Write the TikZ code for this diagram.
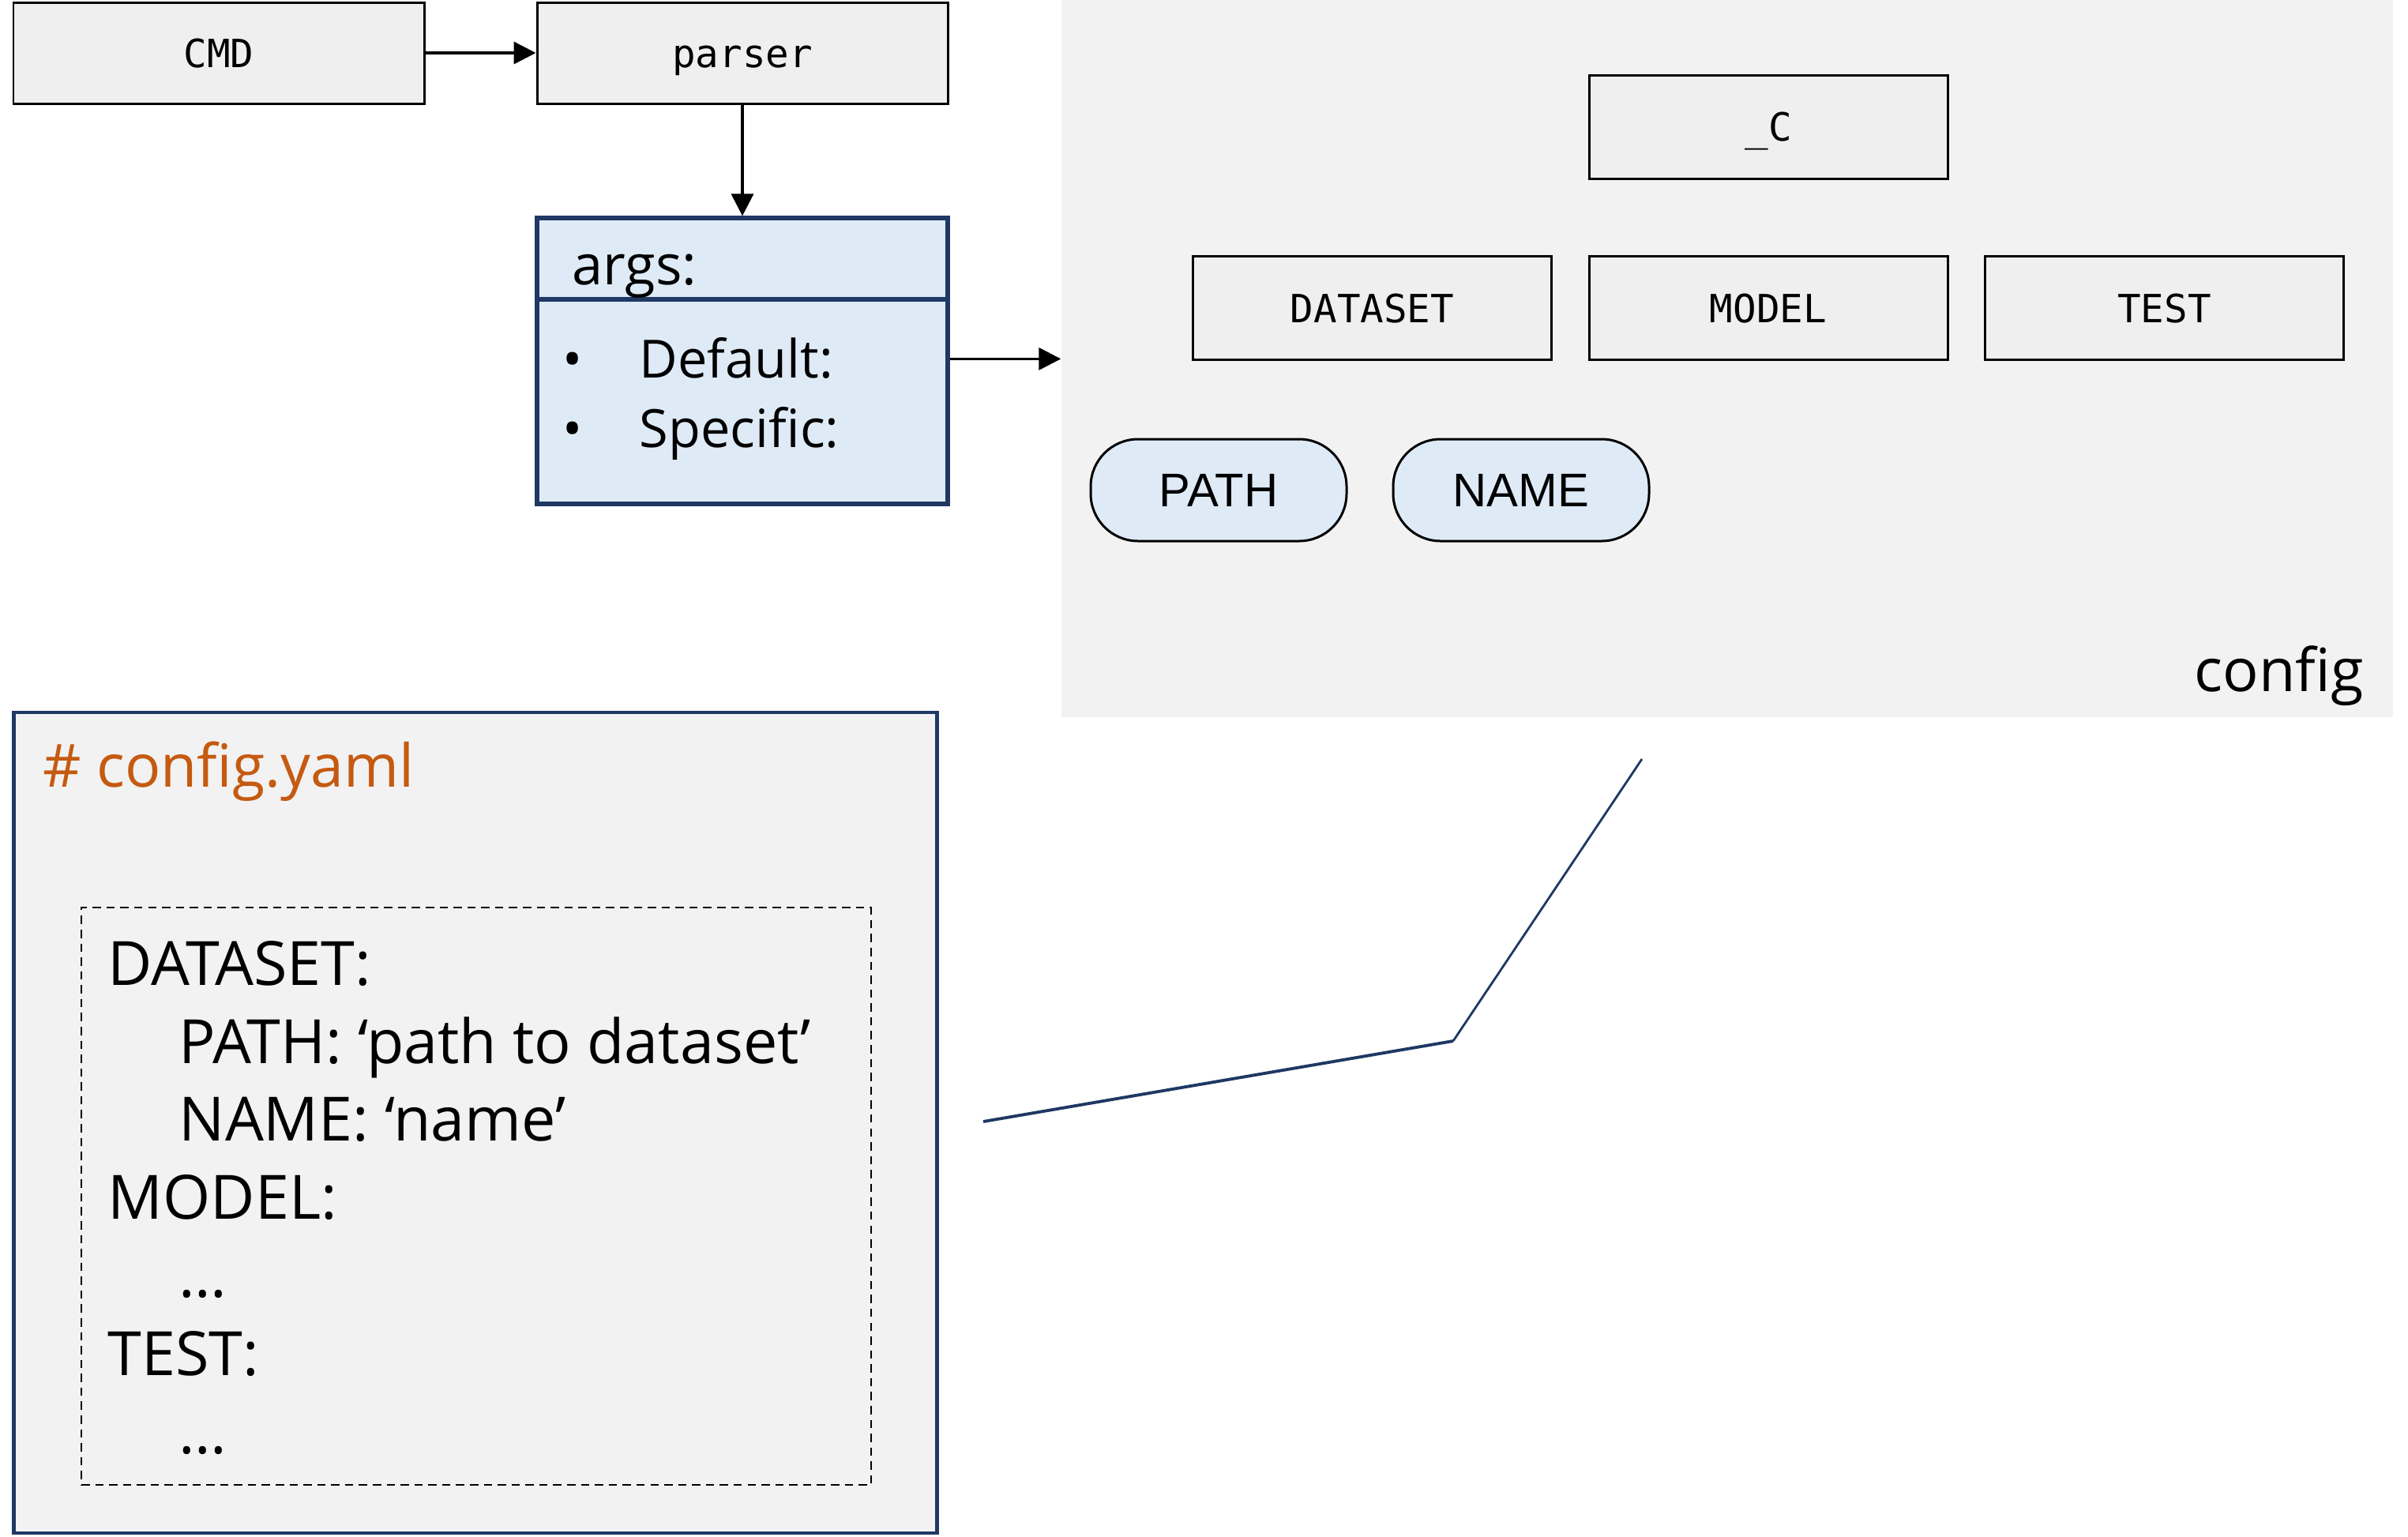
\documentclass[tikz,border=0pt]{standalone}
\usepackage{fontspec}
\setmainfont{Open Sans}
\setmonofont{DejaVu Sans Mono}
\newfontfamily\pillfont{Liberation Sans}
\usetikzlibrary{arrows.meta,positioning}
\definecolor{boxgray}{RGB}{239,239,239}
\definecolor{panelgray}{RGB}{242,242,242}
\definecolor{argsblue}{RGB}{222,235,247}
\definecolor{navy}{RGB}{31,56,100}
\definecolor{yamlorange}{RGB}{197,90,17}

\begin{document}
\begin{tikzpicture}[y=-1cm,
    codebox/.style={draw, line width=0.85pt, fill=boxgray, minimum width=5.2cm, minimum height=1.28cm, text height=12.5pt, text depth=2pt, font=\ttfamily\fontsize{14}{16}\selectfont},
    keybox/.style={draw, line width=0.85pt, fill=boxgray, minimum width=4.54cm, minimum height=1.31cm, text height=12.5pt, text depth=2pt, font=\ttfamily\fontsize{14}{16}\selectfont},
    pill/.style={draw, line width=0.85pt, fill=argsblue, rounded corners=0.6cm, minimum width=3.24cm, minimum height=1.29cm, font=\pillfont\fontsize{17}{20}\selectfont},
    argspart/.style={draw=navy, line width=1.5pt, fill=argsblue, minimum width=5.2cm, inner sep=0pt},
    flow/.style={-{Triangle[length=2.8mm,width=2.8mm]}, line width=1pt}]
    \useasboundingbox (0,0) rectangle (30.49,19.45);

    % config panel
    \node[fill=panelgray, minimum width=16.86cm, minimum height=9.08cm, inner sep=0pt] (config) at (21.87,4.54) {};
    \node[anchor=base east, font=\fontsize{21.5}{24}\selectfont] (configlabel) at (30.05,8.75) {config};
    \node[keybox] (cvar) at (22.39,1.605) {\_C};
    \node[keybox] (dataset) at (17.375,3.90) {DATASET};
    \node[keybox] (model) at (22.39,3.90) {MODEL};
    \node[keybox] (test) at (27.405,3.90) {TEST};
    \node[pill] (path) at (15.43,6.205) {PATH};
    \node[pill] (name) at (19.26,6.205) {NAME};

    % command line side
    \node[codebox] (cmd) at (2.77,0.67) {CMD};
    \node[codebox] (parser) at (9.40,0.67) {parser};
    \node[argspart, minimum height=1.03cm] (argshead) at (9.40,3.275) {};
    \node[argspart, minimum height=2.59cm] (argsbody) at (9.40,5.085) {};
    \node[anchor=base west, font=\fontsize{20}{24}\selectfont] (argstext) at (7.12,3.60) {args:};
    % base of a multi-line node is its last line
    \node[anchor=base west, align=left, inner sep=0pt, font=\fontsize{19}{25}\selectfont] (argsitems) at (7.12,5.66)
        {\textbullet\hspace{0.72cm}Default:\\ \textbullet\hspace{0.72cm}Specific:};

    \draw[flow] (cmd) -- (parser);
    \draw[flow] (parser) -- (argshead);
    \draw[flow] ([yshift=-0.78cm]argsbody.north east) -- ([yshift=-0.78cm]argsbody.north east -| config.west);

    % yaml file
    \node[draw=navy, line width=1.3pt, fill=panelgray, minimum width=11.69cm, minimum height=10.39cm] (yaml) at (6.02,14.215) {};
    \node[anchor=base west, text=yamlorange, font=\fontsize{21.4}{24}\selectfont] (yamltitle) at (0.42,9.96) {\# config.yaml};
    \node[draw, densely dashed, line width=0.5pt, minimum width=10.0cm, minimum height=7.31cm] (yamlcode) at (6.03,15.145) {};
    \node[anchor=base west, align=left, inner sep=0pt, font=\fontsize{22}{28.1}\selectfont] (yamltext) at (1.36,18.40)
        {DATASET:\\
         \hspace*{0.9cm}PATH: ‘path to dataset’\\
         \hspace*{0.9cm}NAME: ‘name’\\
         MODEL:\\
         \hspace*{0.9cm}\dots\\
         TEST:\\
         \hspace*{0.9cm}\dots};

    \coordinate (bendA) at (12.45,14.20);
    \coordinate (bendB) at (18.40,13.18);
    \coordinate (bendC) at (20.79,9.61);
    \draw[navy, line width=1.1pt] (bendA) -- (bendB);
    \draw[navy, line width=0.8pt] (bendB) -- (bendC);
\end{tikzpicture}
\end{document}
